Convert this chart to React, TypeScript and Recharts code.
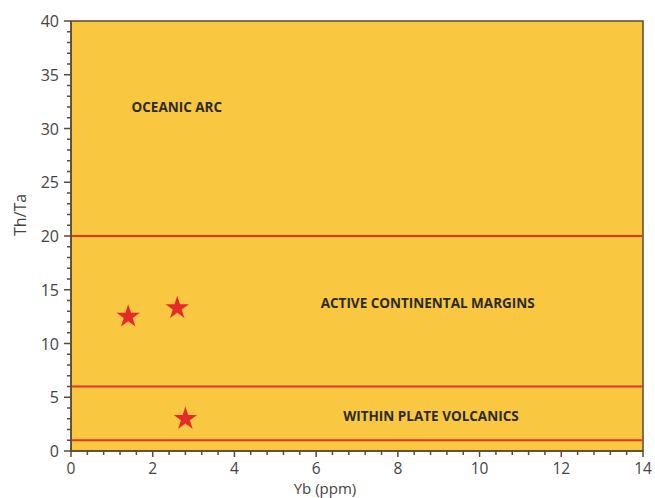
import React from 'react'
import {
  ScatterChart,
  Scatter,
  XAxis,
  YAxis,
  Symbols,
  ReferenceLine,
  ReferenceDot,
} from 'recharts'

// samples plotted as stars
const ybValues = [1.4, 2.6, 2.8]
const thTaValues = [12.5, 13.3, 3.0]

// field boundaries (Th/Ta)
const boundaries = [20, 6, 1]

// field labels
const fieldNames = ['OCEANIC ARC', 'ACTIVE CONTINENTAL MARGINS', 'WITHIN PLATE VOLCANICS']
const fieldX = [2.59, 8.73, 8.81]
const fieldY = [32, 13.77, 3.26]

const xTicks = [
  0, 0.4, 0.8, 1.2, 1.6, 2, 2.4, 2.8, 3.2, 3.6, 4, 4.4, 4.8, 5.2, 5.6, 6, 6.4, 6.8,
  7.2, 7.6, 8, 8.4, 8.8, 9.2, 9.6, 10, 10.4, 10.8, 11.2, 11.6, 12, 12.4, 12.8, 13.2,
  13.6, 14,
]
const yTicks = Array.from({ length: 41 }, (_, i) => i)

const samples = ybValues.map((x, i) => ({ x, y: thTaValues[i] }))

const AXIS_COLOR = '#5a4a30'
const LABEL_COLOR = '#444'
const FONT = '"Open Sans", "Noto Sans", sans-serif'

const isMajorX = (v: number) => Math.abs(v - Math.round(v)) < 1e-6 && Math.round(v) % 2 === 0

function XTick({ x, y, payload }: any) {
  const major = isMajorX(payload.value)
  return (
    <g>
      <line x1={x} x2={x} y1={y} y2={y + (major ? 6 : 4)} stroke={AXIS_COLOR} strokeWidth={1.5} />
      {major && (
        <text x={x} y={y + 23} textAnchor="middle" fontSize={15.5} fill={LABEL_COLOR} fontFamily={FONT}>
          {Math.round(payload.value)}
        </text>
      )}
    </g>
  )
}

function YTick({ x, y, payload }: any) {
  const major = payload.value % 5 === 0
  return (
    <g>
      <line x1={x} x2={x - (major ? 7 : 4)} y1={y} y2={y} stroke={AXIS_COLOR} strokeWidth={1.5} />
      {major && (
        <text x={x - 12} y={y + 6} textAnchor="end" fontSize={16} fill={LABEL_COLOR} fontFamily={FONT}>
          {payload.value}
        </text>
      )}
    </g>
  )
}

function Star({ cx, cy }: any) {
  return <Symbols cx={cx} cy={cy} type="star" size={170} fill="#E32B2B" />
}

export default function App() {
  return (
    <div style={{ position: 'absolute', left: 0, top: 0, width: 655, height: 498, background: '#fff' }}>
      <ScatterChart width={655} height={498} margin={{ top: 21, right: 12, bottom: 0, left: 0 }}>
        <rect x={71} y={21} width={572} height={430} fill="#F9C740" stroke={AXIS_COLOR} strokeWidth={1.5} />
        <XAxis
          type="number"
          dataKey="x"
          domain={[0, 14]}
          ticks={xTicks}
          interval={0}
          height={47}
          tickSize={0}
          tickMargin={0}
          tickLine={false}
          axisLine={{ stroke: AXIS_COLOR, strokeWidth: 1.5 }}
          tick={<XTick />}
          label={{ value: 'Yb (ppm)', position: 'insideBottom', offset: 4, dx: -32, fontSize: 15, fill: LABEL_COLOR, fontFamily: FONT }}
        />
        <YAxis
          type="number"
          dataKey="y"
          domain={[0, 40]}
          ticks={yTicks}
          interval={0}
          width={71}
          tickSize={0}
          tickMargin={0}
          tickLine={false}
          axisLine={{ stroke: AXIS_COLOR, strokeWidth: 1.5 }}
          tick={<YTick />}
          label={{ value: 'Th/Ta', angle: -90, position: 'insideLeft', offset: 20, dy: 0, fontSize: 16, fill: LABEL_COLOR, fontFamily: FONT }}
        />
        {boundaries.map((b) => (
          <ReferenceLine key={b} y={b} stroke="#E2352A" strokeWidth={2} />
        ))}
        {fieldNames.map((name, i) => (
          <ReferenceDot
            key={name}
            x={fieldX[i]}
            y={fieldY[i]}
            r={0}
            fill="none"
            stroke="none"
            label={{
              value: name,
              position: 'center',
              fontSize: 13.5,
              fontWeight: 700,
              fill: '#2b2b2b',
              fontFamily: FONT,
            }}
          />
        ))}
        <Scatter data={samples} shape={<Star />} isAnimationActive={false} />
      </ScatterChart>
    </div>
  )
}
